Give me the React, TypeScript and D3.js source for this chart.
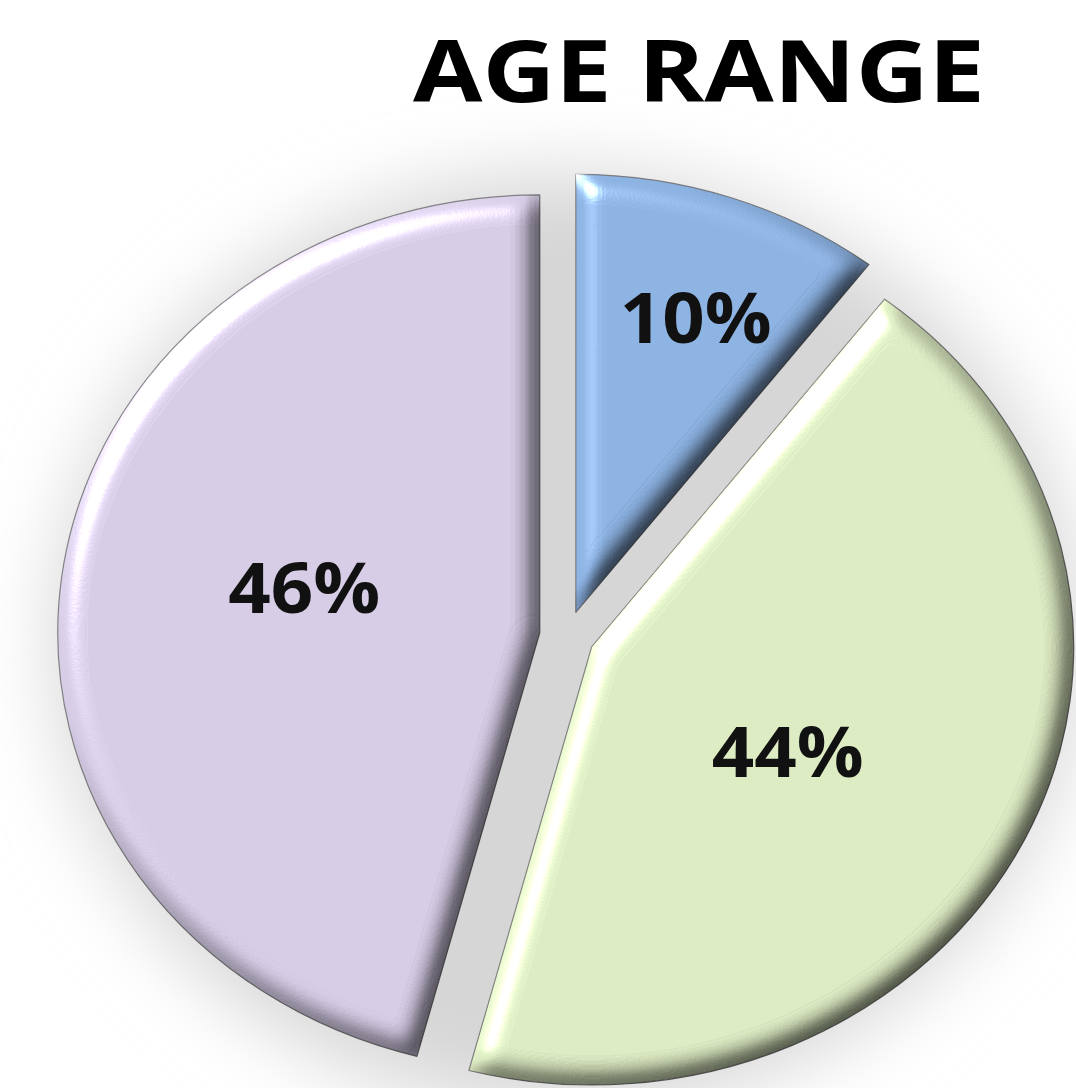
import React from "react";
import * as d3 from "d3";

// ---- data ----
const categories = ["Age group A", "Age group B", "Age group C"];
const values = [10.4, 43.7, 45.9];
const valueLabels = ["10%", "44%", "46%"];
const sliceColors = ["#8cb2e2", "#ddebc3", "#d6cce6"];
const titleText = "AGE RANGE";

// ---- layout ----
const W = 1076;
const H = 1088;
const CX = 567;
const CY = 636;
const RX = 482;
const RY = 438;
const EXPLODE = 0.057;
const labelRadius = [0.72, 0.47, 0.5];
const labelAngleShift = [1.5, 4, 5];

export default function App() {
  const pie = d3
    .pie<number>()
    .sort(null)
    .startAngle(0)
    .endAngle(2 * Math.PI)
    .value((d) => d);
  const arcs = pie(values);
  const arcGen = d3.arc<d3.PieArcDatum<number>>().innerRadius(0).outerRadius(RY);
  const sx = RX / RY;

  return (
    <svg
      width={W}
      height={H}
      viewBox={`0 0 ${W} ${H}`}
      style={{ position: "absolute", left: 0, top: 0, background: "#ffffff" }}
    >
      <defs>
        <filter id="glow" x="-30%" y="-30%" width="160%" height="160%">
          <feGaussianBlur stdDeviation="40" />
        </filter>
        <filter
          id="bevel"
          x="-5%"
          y="-5%"
          width="110%"
          height="110%"
          colorInterpolationFilters="sRGB"
        >
          <feGaussianBlur in="SourceAlpha" stdDeviation="12" result="blur" />
          <feDiffuseLighting
            in="blur"
            surfaceScale="12"
            diffuseConstant="1.17"
            lightingColor="#ffffff"
            result="diff"
          >
            <feDistantLight azimuth="225" elevation="58" />
          </feDiffuseLighting>
          <feComposite
            in="SourceGraphic"
            in2="diff"
            operator="arithmetic"
            k1="1"
            k2="0"
            k3="0"
            k4="0"
            result="lit"
          />
          <feSpecularLighting
            in="blur"
            surfaceScale="12"
            specularConstant="0.65"
            specularExponent="40"
            lightingColor="#ffffff"
            result="spec"
          >
            <feDistantLight azimuth="225" elevation="40" />
          </feSpecularLighting>
          <feComposite in="spec" in2="SourceAlpha" operator="in" result="specIn" />
          <feComposite
            in="lit"
            in2="specIn"
            operator="arithmetic"
            k1="0"
            k2="1"
            k3="1"
            k4="0"
          />
        </filter>
      </defs>

      <rect x={0} y={0} width={W} height={H} fill="#ffffff" />

      {/* soft grey halo behind the pie */}
      <ellipse
        cx={CX}
        cy={CY + 6}
        rx={RX + 30}
        ry={RY + 30}
        fill="#d6d6d6"
        filter="url(#glow)"
      />

      {arcs.map((a, i) => {
        const mid = (a.startAngle + a.endAngle) / 2;
        const dx = Math.sin(mid) * EXPLODE * RX;
        const dy = -Math.cos(mid) * EXPLODE * RY;
        return (
          <g key={categories[i]} filter="url(#bevel)">
            <path
              d={arcGen(a) || ""}
              transform={`translate(${CX + dx},${CY + dy}) scale(${sx},1)`}
              fill={sliceColors[i]}
              stroke="#6a6a6a"
              strokeWidth={1.2}
              strokeOpacity={0.8}
              vectorEffect="non-scaling-stroke"
              strokeLinejoin="round"
            />
          </g>
        );
      })}

      {arcs.map((a, i) => {
        const mid = (a.startAngle + a.endAngle) / 2;
        const dx = Math.sin(mid) * EXPLODE * RX;
        const dy = -Math.cos(mid) * EXPLODE * RY;
        const ang = mid + (labelAngleShift[i] * Math.PI) / 180;
        const x = CX + dx + Math.sin(ang) * labelRadius[i] * RX;
        const y = CY + dy - Math.cos(ang) * labelRadius[i] * RY;
        return (
          <text
            key={"l" + i}
            x={x}
            y={y}
            textAnchor="middle"
            dominantBaseline="central"
            fontFamily="'Open Sans', 'Noto Sans', sans-serif"
            fontWeight={700}
            fontSize={70}
            fill="#111111"
            textLength={152}
            lengthAdjust="spacingAndGlyphs"
          >
            {valueLabels[i]}
          </text>
        );
      })}

      <text
        x={413}
        y={102}
        fontFamily="'Open Sans', 'Noto Sans', sans-serif"
        fontWeight={700}
        fontSize={86}
        fill="#000000"
        textLength={572}
        lengthAdjust="spacingAndGlyphs"
      >
        {titleText}
      </text>
    </svg>
  );
}
